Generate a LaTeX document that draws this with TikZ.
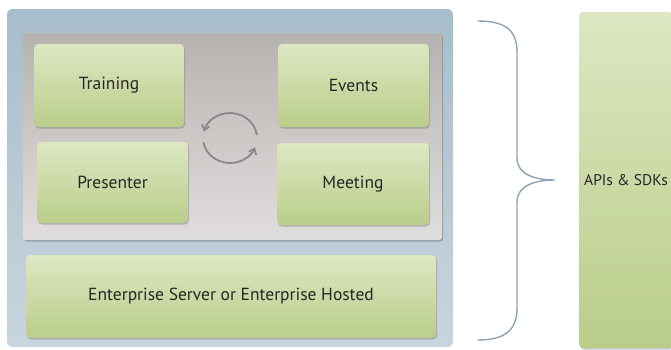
\documentclass[tikz,border=0pt]{standalone}
\usepackage{fontspec}
\setmainfont{PT Sans}
\usetikzlibrary{calc, shadows, arrows.meta}
\definecolor{panelbluetop}{HTML}{A8BDCB}
\definecolor{panelbluebot}{HTML}{C8D5DE}
\definecolor{panelgraytop}{HTML}{B6B2B0}
\definecolor{panelgraybot}{HTML}{E0DEDC}
\definecolor{boxgreentop}{HTML}{DDE7C2}
\definecolor{boxgreenbot}{HTML}{BACD8A}
\definecolor{bracecolor}{HTML}{8DA2B2}
\definecolor{cyclecolor}{HTML}{8A8886}
\tikzset{
	myouterpanel/.style={rectangle, top color=panelbluetop, bottom color=panelbluebot, rounded corners=2mm,
				inner sep=0pt, draw=none
				},
	myinnerpanel/.style={rectangle, top color=panelgraytop, bottom color=panelgraybot, rounded corners=1mm,
				inner sep=0pt, draw=none,
				drop shadow={shadow xshift=1.2pt, shadow yshift=-1.5pt, opacity=0.45, fill=black!60}
				},
	myblockgreen/.style={rectangle, top color=boxgreentop, bottom color=boxgreenbot, rounded corners=1.5mm,
				inner sep=0pt, text centered, align=center, text=black!85,
				font=\fontsize{17.5}{20}\selectfont,
				drop shadow={shadow xshift=1pt, shadow yshift=-1.5pt, opacity=0.35, fill=black!60}
				},
	mybrace/.style={bracecolor, line width=1.4pt, line cap=round
				},
	mycyclearrow/.style={-{Straight Barb[length=5pt, width=8pt]}, cyclecolor, line width=1.8pt
				}
	}

\begin{document}
\begin{tikzpicture}[x=1pt, y=-1pt]

				\useasboundingbox[fill=white] (0,0) rectangle (671,349);

				\node[myouterpanel, minimum width=446pt, minimum height=338pt] (platform) at (230, 178) {};

				\node[myinnerpanel, minimum width=419pt, minimum height=207pt] (products) at (232.5, 136.5) {};

				\node[myblockgreen, minimum width=150pt, minimum height=83pt] (training) at (109, 85.5) {Training};
				\node[myblockgreen, minimum width=151pt, minimum height=81pt] (presenter) at (112.5, 182.5) {Presenter};
				\node[myblockgreen, minimum width=151pt, minimum height=83pt] (events) at (353.5, 85.5) {Events};
				\node[myblockgreen, minimum width=152pt, minimum height=82pt] (meeting) at (353, 184) {Meeting};

				\node[myblockgreen, minimum width=410pt, minimum height=83pt] (server) at (231, 296.5)
				{Enterprise Server or Enterprise Hosted};

				\node[myblockgreen, minimum width=94pt, minimum height=336pt, drop shadow={opacity=0},
					font=\fontsize{15.5}{18}\selectfont] (apis) at (626, 180) {APIs \& SDKs};

				% cycle between the products
				\coordinate (cyclecenter) at (230, 138);
				\draw[mycyclearrow] ($(cyclecenter)+({27*cos(-7)},{25*sin(-7)})$)
					arc[start angle=-7, end angle=-165, x radius=27, y radius=25];
				\draw[mycyclearrow] ($(cyclecenter)+({27*cos(-190)},{25*sin(-190)})$)
					arc[start angle=-190, end angle=-338, x radius=27, y radius=25];

				% brace
				\coordinate (bracetop) at (478, 21);
				\coordinate (bracetip) at (555, 180);
				\coordinate (bracebot) at (478, 340);
				\draw[mybrace] (bracetop) .. controls (505, 21) and (517, 30) .. (517, 52)
					-- (517, 158) .. controls (517, 174) and (534, 180) .. (bracetip)
					.. controls (534, 180) and (517, 186) .. (517, 202)
					-- (517, 308) .. controls (517, 330) and (505, 340) .. (bracebot);

\end{tikzpicture}
\end{document}
